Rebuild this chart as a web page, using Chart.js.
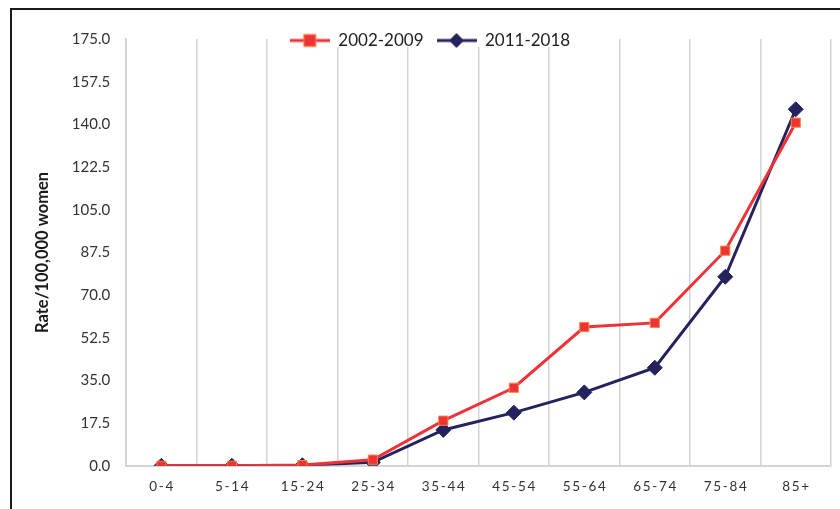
<!DOCTYPE html>
<html>
<head>
<meta charset="utf-8">
<script src="https://cdn.jsdelivr.net/npm/chart.js@4"></script>
<style>
  html, body { margin: 0; padding: 0; background: #fff; }
  canvas { display: block; }
</style>
</head>
<body>
<canvas id="myChart" width="840" height="509"></canvas>
<script>
/* data */
const ageGroups = ['0-4', '5-14', '15-24', '25-34', '35-44', '45-54', '55-64', '65-74', '75-84', '85+'];
const rates2002 = [0, 0, 0.3, 2.5, 18.5, 32.0, 56.9, 58.6, 88.2, 140.7];
const rates2011 = [0, 0, 0.2, 1.4, 14.7, 21.8, 30.1, 40.2, 77.5, 146.2];
const yTicks = [0, 17.5, 35, 52.5, 70, 87.5, 105, 122.5, 140, 157.5, 175];

const RED = '#EE3338';
const RED_EDGE = '#F5883F';
const NAVY = '#25235E';
const FONT = 'Lato, "Liberation Sans", sans-serif';

/* legend swatch: line with marker in the middle */
function swatch(color, edge, diamond) {
  const c = document.createElement('canvas');
  c.width = 40; c.height = 16;
  const g = c.getContext('2d');
  g.strokeStyle = color;
  g.lineWidth = 3;
  g.beginPath(); g.moveTo(0, 8); g.lineTo(40, 8); g.stroke();
  g.fillStyle = color;
  g.strokeStyle = edge;
  g.lineWidth = 1;
  if (diamond) {
    g.beginPath(); g.moveTo(20, 1); g.lineTo(27, 8); g.lineTo(20, 15); g.lineTo(13, 8); g.closePath();
    g.fill(); g.stroke();
  } else {
    g.fillRect(14, 2, 12, 12);
    g.strokeRect(14, 2, 12, 12);
  }
  return c;
}

/* black frame at top and left, like the cropped figure */
const framePlugin = {
  id: 'frame',
  afterDraw(chart) {
    const ctx = chart.ctx;
    ctx.save();
    ctx.strokeStyle = '#1a1a1a';
    ctx.lineWidth = 2;
    ctx.beginPath();
    ctx.moveTo(11, 509); ctx.lineTo(11, 9); ctx.lineTo(840, 9);
    ctx.stroke();
    ctx.restore();
  }
};

/* let the legend sit on top of the plot area, on a white box */
const LEGEND_SHIFT = 20;
const legendOverlay = {
  id: 'legendOverlay',
  beforeInit(chart) {
    const legend = chart.legend;
    const origFit = legend.fit;
    legend.fit = function() {
      origFit.bind(legend)();
      this.height = 0;
    };
    legend.draw = function() {
      const c = this.ctx;
      c.save();
      c.translate(0, -LEGEND_SHIFT);
      const boxes = this.legendHitBoxes || [];
      if (boxes.length) {
        const l = Math.min.apply(null, boxes.map(b => b.left));
        const r = Math.max.apply(null, boxes.map(b => b.left + b.width));
        const t = boxes[0].top;
        const h = boxes[0].height;
        c.fillStyle = '#fff';
        c.fillRect(l - 8, t - 4, r - l + 16, h + 2);
      }
      this._draw();
      c.restore();
    };
  }
};

const ctx = document.getElementById('myChart').getContext('2d');

new Chart(ctx, {
  type: 'line',
  data: {
    labels: ageGroups,
    datasets: [{
      label: '2002-2009',
      data: rates2002,
      borderColor: RED,
      backgroundColor: RED,
      borderWidth: 3,
      pointStyle: 'rect',
      pointRadius: 6.5,
      pointBorderColor: RED_EDGE,
      pointBackgroundColor: RED,
      pointBorderWidth: 1,
      tension: 0
    },
    {
      label: '2011-2018',
      data: rates2011,
      borderColor: NAVY,
      backgroundColor: NAVY,
      borderWidth: 3,
      pointStyle: 'rectRot',
      pointRadius: 7.5,
      pointBorderColor: NAVY,
      pointBackgroundColor: NAVY,
      pointBorderWidth: 1,
      tension: 0
    }]
  },
  options: {
    responsive: false,
    animation: false,
    layout: { padding: { top: 39, left: 29, right: 9, bottom: 1 } },
    plugins: {
      tooltip: { enabled: false },
      legend: {
        position: 'top',
        labels: {
          color: '#222',
          font: { family: FONT, size: 17 },
          usePointStyle: true,
          boxWidth: 40,
          pointStyleWidth: 40,
          padding: 13,
          generateLabels: function(chart) {
            return chart.data.datasets.map(function(ds, i) {
              return {
                text: ds.label,
                pointStyle: i === 0 ? swatch(RED, RED_EDGE, false) : swatch(NAVY, NAVY, true),
                fillStyle: ds.borderColor,
                strokeStyle: ds.borderColor,
                lineWidth: 0,
                datasetIndex: i,
                fontColor: '#222'
              };
            });
          }
        }
      }
    },
    scales: {
      x: {
        offset: true,
        grid: { offset: true, color: '#D4D4D4', lineWidth: 1.5, drawTicks: false },
        border: { color: '#D4D4D4', width: 2 },
        ticks: {
          color: '#333',
          font: { family: FONT, size: 13.5 },
          padding: 13,
          maxRotation: 0,
          callback: function(v) { return ageGroups[v].split('').join('\u2009'); }
        }
      },
      y: {
        min: 0,
        max: 175,
        afterBuildTicks: function(axis) { axis.ticks = yTicks.map(function(v) { return { value: v }; }); },
        grid: { display: false, drawTicks: false },
        border: { color: '#D4D4D4', width: 2 },
        ticks: {
          color: '#333',
          font: { family: FONT, size: 15 },
          padding: 16,
          callback: function(v) { return Number(v).toFixed(1); }
        },
        title: {
          display: true,
          text: 'Rate/100,000 women',
          color: '#1a1a1a',
          font: { family: FONT, size: 16.5, weight: 'bold' },
          padding: { bottom: 3 }
        }
      }
    }
  },
  plugins: [framePlugin, legendOverlay]
});
</script>
</body>
</html>
